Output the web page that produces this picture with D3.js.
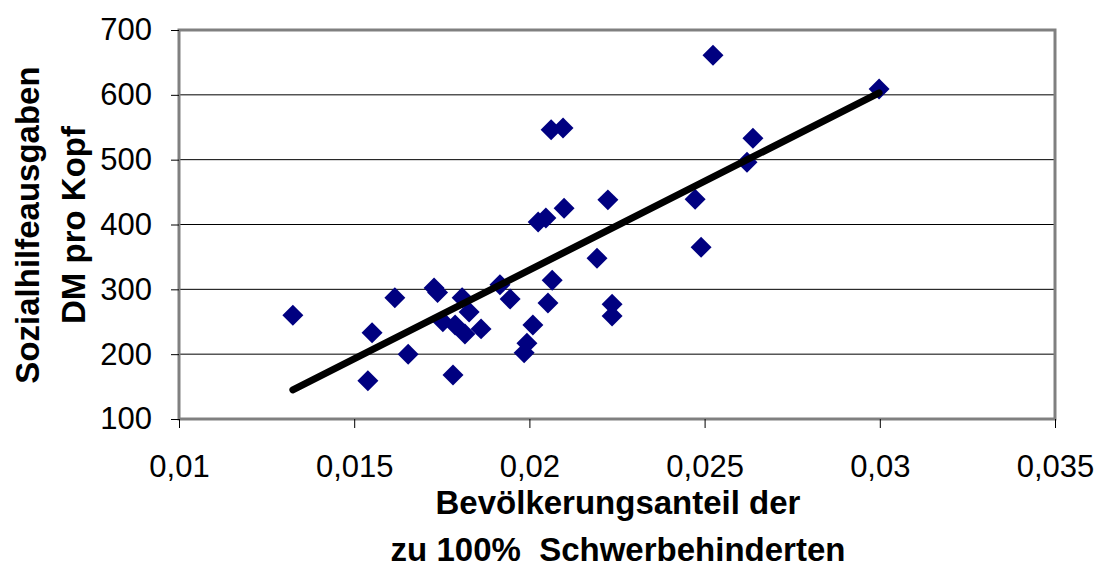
<!DOCTYPE html>
<html><head><meta charset="utf-8">
<script src="https://cdn.jsdelivr.net/npm/d3@7"></script>
<style>body{margin:0;background:#fff}svg{display:block}text{font-family:"Liberation Sans",Arial,sans-serif}</style>
</head><body><svg id="c" width="1098" height="572"></svg>
<script>
const xShare = [0.01325,0.01551,0.01539,0.01616,0.01654,0.01728,0.01738,0.01753,0.01782,0.01808,0.01788,0.01816,0.01828,0.01862,0.01916,0.01945,0.02065,0.02053,0.02010,0.01993,0.01985,0.02062,0.02096,0.02638,0.02621,0.02224,0.02473,0.02099,0.02047,0.02025,0.02490,0.02193,0.02236,0.02236,0.02524,0.02998];
const ySpend = [260,233,159,287,200,302,295,250,168,287,245,231,265,239,307,285,314,279,245,217,202,546,549,533,496,438,439,425,410,404,365,348,277,259,661,609];
const trendX = [0.01325,0.02998];
const trendY = [145,603];
const xTicks = [0.01,0.015,0.02,0.025,0.03,0.035];
const yTicks = [100,200,300,400,500,600,700];
const yTitle = ["Sozialhilfeausgaben","DM pro Kopf"];
const xTitle = ["Bevölkerungsanteil der","zu 100%  Schwerbehinderten"];

const svg = d3.select("#c");
const L=179,R=1055,T=30,B=419;
const x = d3.scaleLinear().domain([0.01,0.035]).range([L,R]);
const y = d3.scaleLinear().domain([100,700]).range([B,T]);
const fmt = d => String(d).replace(".",",");

// gridlines
svg.append("g").selectAll("line").data(yTicks.slice(1,-1)).join("line")
  .attr("x1",L).attr("x2",R).attr("y1",d=>y(d)).attr("y2",d=>y(d))
  .attr("stroke","#000").attr("stroke-width",1);
// border
svg.append("rect").attr("x",L).attr("y",T).attr("width",R-L).attr("height",B-T)
  .attr("fill","none").attr("stroke","#808080").attr("stroke-width",3);

// axes
const ya = svg.append("g").attr("transform",`translate(${L},0)`)
  .call(d3.axisLeft(y).tickValues(yTicks).tickSize(8).tickPadding(19).tickFormat(d=>d));
ya.select(".domain").remove();
ya.selectAll("text").attr("font-size",31).attr("fill","#000");
ya.selectAll("line").attr("stroke","#000");
const xa = svg.append("g").attr("transform",`translate(0,${B})`)
  .call(d3.axisBottom(x).tickValues(xTicks).tickSize(9).tickPadding(27).tickFormat(fmt));
xa.select(".domain").remove();
xa.selectAll("text").attr("font-size",31).attr("fill","#000");
xa.selectAll("line").attr("stroke","#000");

// points
const pts = xShare.map((v,i)=>({x:v,y:ySpend[i]}));
svg.append("g").selectAll("path").data(pts).join("path")
  .attr("d", d3.symbol().type(d3.symbolSquare).size(220))
  .attr("transform", d=>`translate(${x(d.x)},${y(d.y)}) rotate(45)`)
  .attr("fill","#000080");

// trend line
svg.append("path").datum(trendX.map((v,i)=>[v,trendY[i]]))
  .attr("d", d3.line().x(d=>x(d[0])).y(d=>y(d[1])))
  .attr("stroke","#000").attr("stroke-width",7).attr("stroke-linecap","round").attr("fill","none");

// titles
svg.append("g").selectAll("text").data(xTitle).join("text")
  .attr("x",618).attr("y",(d,i)=>514+i*47).attr("text-anchor","middle")
  .style("white-space","pre")
  .attr("font-size",33).attr("font-weight","bold").text(d=>d);
svg.append("g").selectAll("text").data(yTitle).join("text")
  .attr("transform",(d,i)=>`translate(${39+i*46},225) rotate(-90)`).attr("text-anchor","middle")
  .attr("font-size",33).attr("font-weight","bold").text(d=>d);
</script></body></html>
